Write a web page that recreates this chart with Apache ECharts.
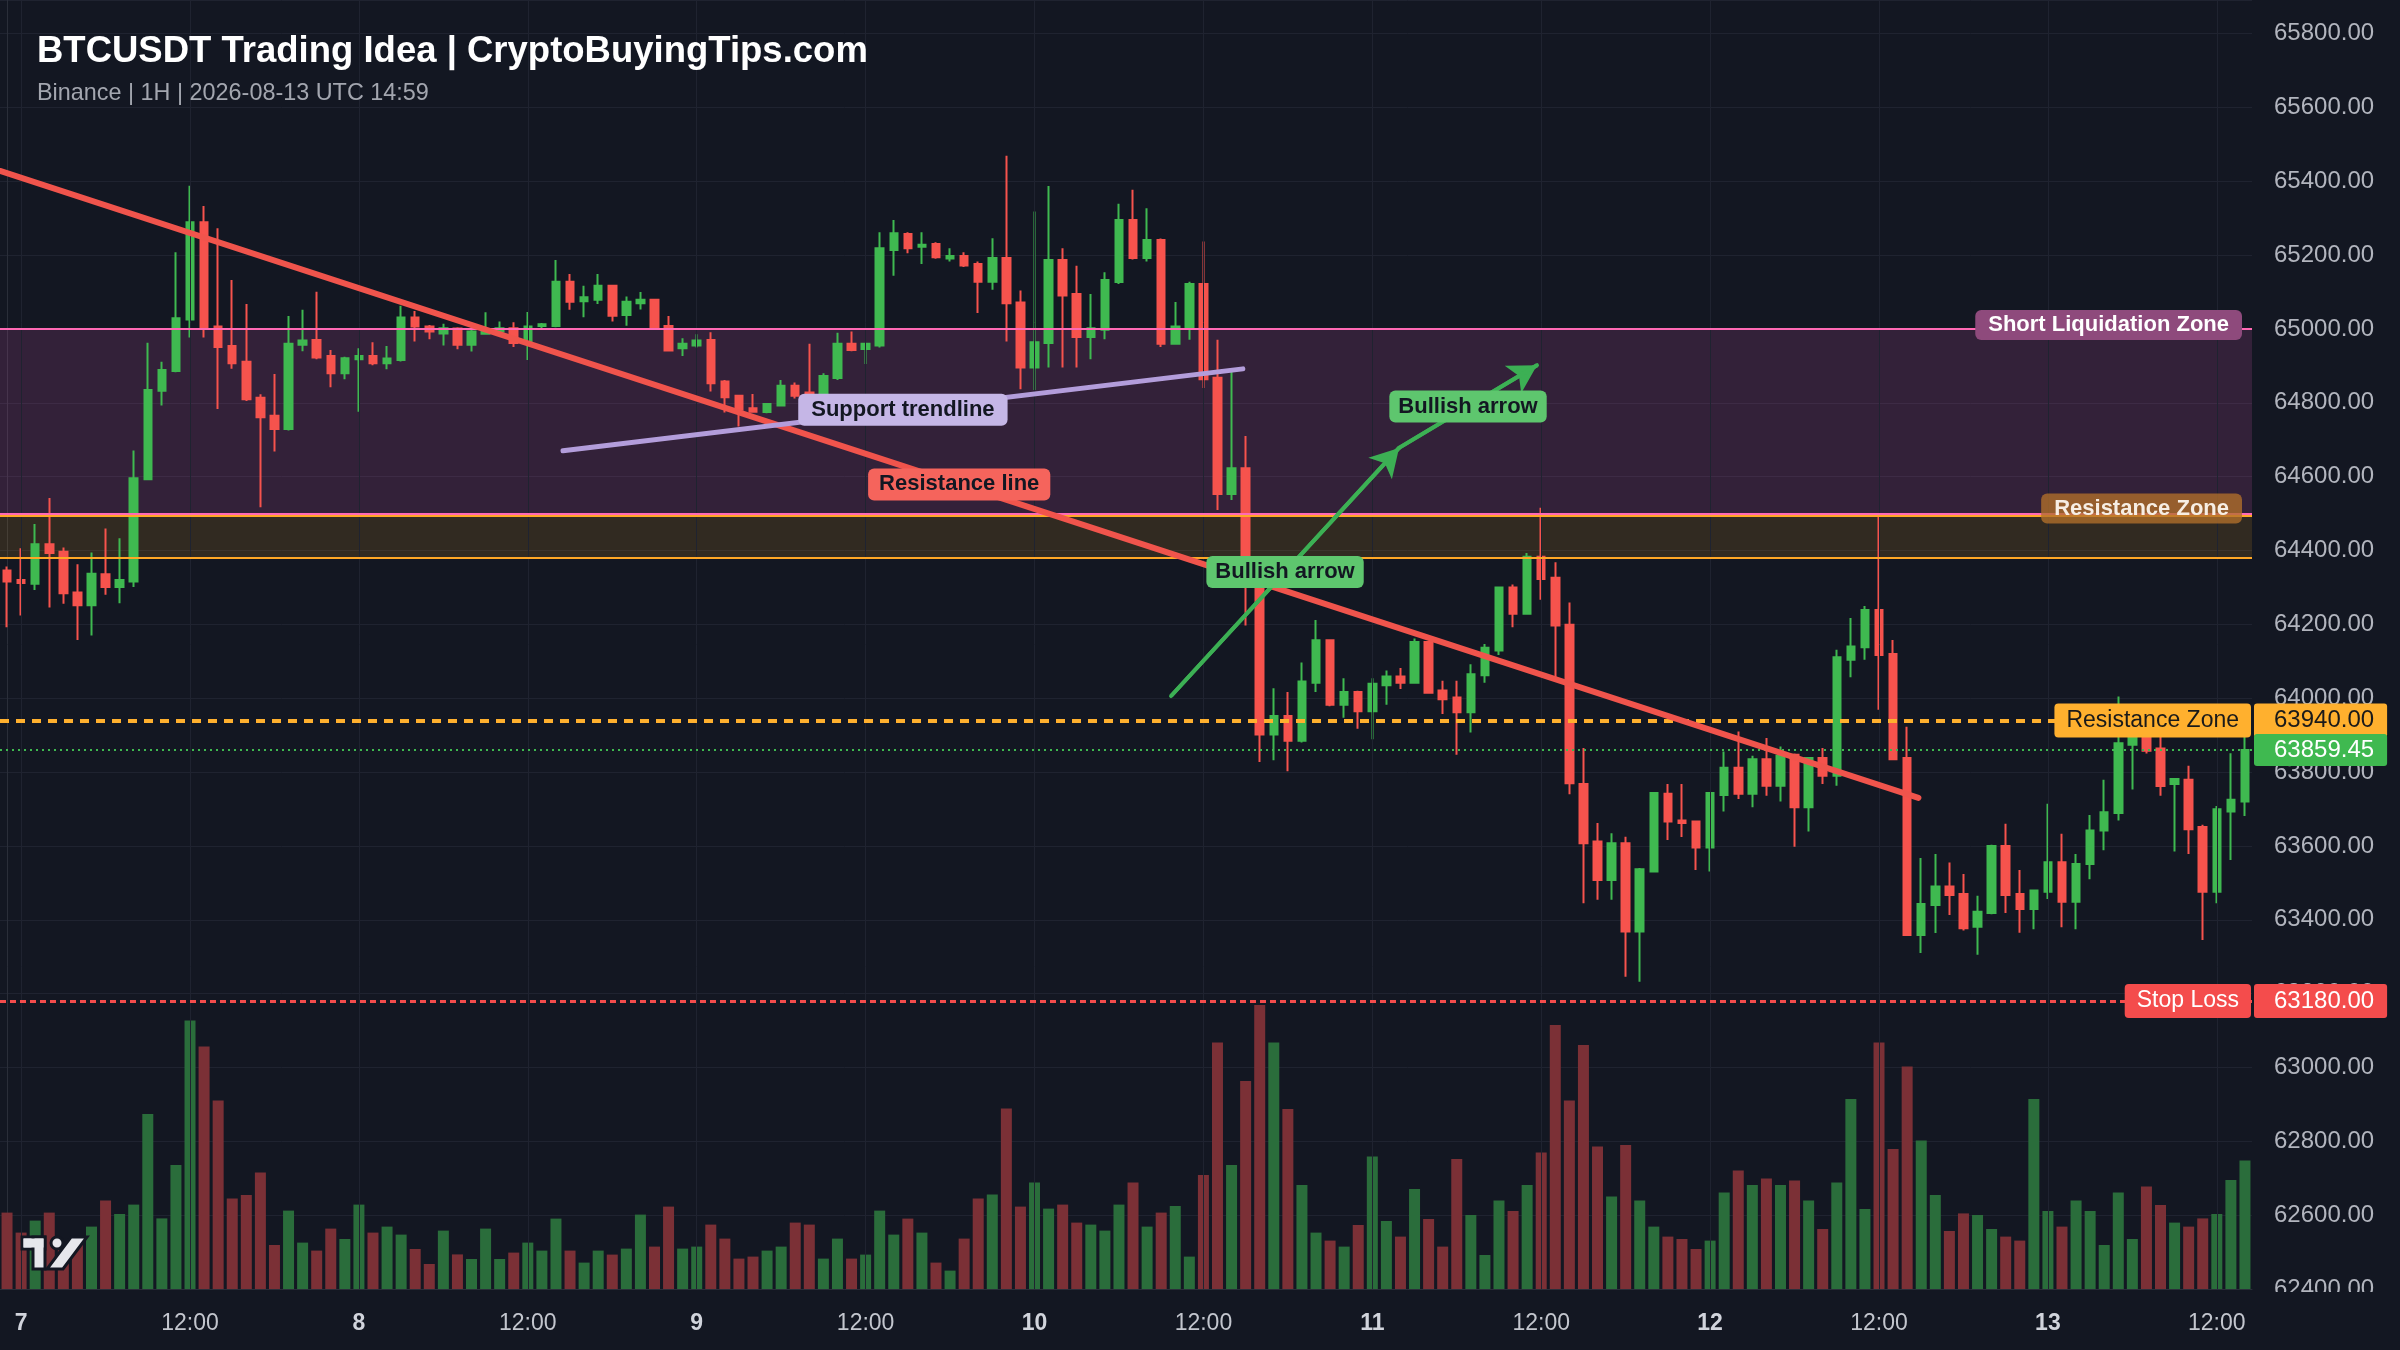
<!DOCTYPE html>
<html><head><meta charset="utf-8">
<script src="https://cdn.jsdelivr.net/npm/echarts@6.0.0/dist/echarts.min.js"></script>
<style>html,body{margin:0;padding:0;background:#131722;}#c{width:2400px;height:1350px;}</style>
</head><body><div id="c"></div>
<script>
// ---------- DATA ----------
const firstCandleUTC = Date.UTC(2026, 7, 6, 23, 0); // 1H candles
const opens = [64346,64320,64310,64417,64397,64286,64252,64336,64301,64316,
 64593,64833,64886,65026,65289,65007,64954,64911,64814,64765,
 64729,64957,64970,64927,64880,64918,64927,64907,64916,65031,
 65007,64988,65001,64957,64987,64993,65002,64966,65008,65008,
 65128,65075,65079,65117,65038,65070,65079,65008,64948,64955,
 64970,64858,64819,64785,64775,64793,64846,64828,64822,64867,
 64960,64946,64955,65214,65257,65223,65230,65191,65198,65176,
 65128,65192,65072,64896,64962,65187,65095,64978,64998,65127,
 65295,65192,65241,64960,65002,65122,64868,64553,64623,64310,
 63902,63952,63885,64042,64157,63982,64017,63965,64035,64059,
 64042,64152,64021,64002,63962,64062,64129,64300,64229,64383,
 64326,64199,63768,63612,63508,63607,63368,63531,63741,63669,
 63666,63596,63738,63812,63741,63835,63763,63847,63705,63838,
 63790,64104,64138,64239,64120,63838,63359,63440,63490,63470,
 63381,63418,63600,63470,63429,63476,63556,63449,63551,63642,
 63689,63874,63905,63864,63768,63779,63651,63476,63693,63720];
const highs = [64357,64406,64472,64542,64408,64363,64395,64460,64433,64671,
 64963,64911,65208,65388,65333,65273,65133,65068,64823,64878,
 65035,65052,65101,64943,64925,64948,64964,64954,65063,65049,
 65011,65014,65005,65016,65045,65020,65018,65046,65016,65187,
 65149,65117,65149,65120,65088,65100,65082,65035,64975,64986,
 64991,64862,64822,64824,64799,64862,64855,64960,64880,64990,
 64993,64963,65262,65295,65262,65262,65235,65219,65208,65183,
 65246,65469,65104,65318,65387,65219,65171,65095,65154,65339,
 65377,65327,65245,65073,65128,65237,64971,64885,64710,64330,
 64027,64017,64097,64212,64160,64054,64020,64054,64075,64082,
 64162,64155,64047,64047,64092,64147,64302,64308,64393,64516,
 64368,64259,63865,63662,63634,63625,63540,63745,63768,63768,
 63668,63745,63856,63910,63844,63892,63869,63850,63840,63865,
 64131,64217,64250,64497,64158,63923,63567,63578,63555,63524,
 63465,63603,63660,63535,63482,63714,63633,63578,63684,63779,
 64005,63950,63935,63940,63784,63817,63657,63708,63851,63901];
const lows = [64192,64224,64293,64246,64256,64158,64170,64280,64257,64301,
 64590,64793,64883,64977,64977,64783,64892,64805,64517,64668,
 64725,64940,64918,64842,64864,64776,64902,64891,64912,64966,
 64972,64955,64945,64939,64985,64990,64951,64916,64998,65005,
 65052,65032,65068,65020,65009,65053,64998,64939,64927,64950,
 64831,64774,64736,64775,64772,64790,64812,64795,64810,64862,
 64940,64905,64950,65144,65205,65176,65190,65183,65168,65043,
 65106,64966,64837,64835,64896,64896,64896,64918,64972,65122,
 65188,65183,64951,64958,64971,64840,64510,64537,64197,63827,
 63832,63802,63880,64017,63978,63947,63917,63889,63982,64025,
 64040,64012,63957,63847,63907,64042,64117,64192,64226,64267,
 64057,63740,63445,63454,63454,63246,63232,63528,63616,63624,
 63535,63531,63693,63727,63705,63736,63720,63598,63639,63768,
 63763,64057,64104,63969,63832,63356,63310,63364,63413,63371,
 63305,63415,63418,63365,63374,63456,63380,63374,63510,63588,
 63669,63753,63850,63736,63585,63578,63345,63445,63562,63681];
const closes = [64316,64312,64417,64393,64284,64252,64337,64301,64320,64596,
 64835,64889,65029,65289,65005,64951,64907,64810,64761,64729,
 64960,64969,64923,64880,64921,64927,64907,64920,65031,65007,
 64993,65002,64957,64993,64997,65002,64962,65007,65013,65128,
 65074,65086,65117,65036,65074,65079,65002,64942,64960,64969,
 64853,64815,64781,64776,64797,64846,64819,64822,64873,64960,
 64943,64960,65219,65259,65219,65228,65194,65198,65172,65128,
 65192,65070,64896,64964,65187,65091,64978,65002,65133,65295,
 65192,65241,64960,65007,65122,64864,64553,64623,64310,63902,
 63952,63885,64045,64157,63982,64017,63965,64039,64059,64042,
 64152,64015,63997,63962,64065,64137,64300,64229,64383,64323,
 64197,63770,63607,63508,63607,63368,63537,63743,63666,63662,
 63596,63743,63812,63741,63835,63763,63844,63705,63838,63790,
 64111,64140,64239,64117,63835,63359,63443,63490,63467,63377,
 63422,63600,63467,63429,63479,63556,63449,63551,63642,63691,
 63878,63905,63858,63762,63781,63645,63476,63699,63725,63859.45];
const volumes = [382,282,342,382,195,228,312,442,375,422,
 875,353,620,1342,1212,942,453,470,582,220,
 392,232,192,302,250,422,282,312,272,200,
 125,292,173,150,302,150,182,232,192,352,
 192,132,192,172,202,372,212,412,202,212,
 322,252,152,162,192,212,332,322,152,252,
 152,172,392,272,352,282,132,92,252,452,
 472,902,412,532,402,422,332,322,292,422,
 532,312,382,415,162,570,1232,620,1040,1420,
 1232,900,520,282,242,212,320,662,340,262,
 500,350,212,650,370,170,442,390,520,682,
 1320,942,1220,712,462,720,442,312,262,250,
 200,242,482,592,520,553,520,542,442,300,
 532,950,400,1232,700,1112,742,470,290,378,
 370,300,262,242,950,390,312,442,390,220,
 482,250,512,420,332,312,353,375,545,642];

// price axis
const priceMin = 62400, priceMax = 65891, priceStep = 200;
const volumeAxisMax = 6445;

// levels / zones
const shortLiqZone = [64500, 65000];
const upperResistanceZone = [64380, 64495];
const resistanceLevel = 63940;
const lastPrice = 63859.45;
const stopLoss = 63180;

// drawings: [candle index, price]
const resistanceLine = [[-0.5, 65428], [135.8, 63730]];
const supportTrendline = [[39.5, 64670], [87.8, 64892]];
const bullishArrow1 = [[82.7, 64006], [98.9, 64678]];
const bullishArrow2 = [[98.9, 64678], [108.7, 64902]];

// ---------- BUILD ----------
const pad = n => String(n).padStart(2, '0');
const categories = opens.map((_, i) => {
  const d = new Date(firstCandleUTC + i * 3600e3);
  return d.getUTCFullYear() + '-' + pad(d.getUTCMonth() + 1) + '-' + pad(d.getUTCDate()) + ' ' + pad(d.getUTCHours()) + ':00';
});
const hourOf = c => +c.slice(11, 13);
const dayOf = c => +c.slice(8, 10);
const xMax = categories.length - 0.5;
const gridIdx = categories.map((c, i) => (hourOf(c) % 12 === 0 ? i : -1)).filter(i => i >= 0);

const FONT = '"Liberation Sans", Arial, Helvetica, sans-serif';
const UP = '#3fb950', DOWN = '#f6534d';
const VOL_UP = '#2a6d3b', VOL_DOWN = '#7b3036';
const mid = l => [(l[0][0] + l[1][0]) / 2, (l[0][1] + l[1][1]) / 2];

const candleData = opens.map((o, i) => [o, closes[i], lows[i], highs[i]]);
const volData = volumes.map((v, i) => ({ value: v, itemStyle: { color: closes[i] >= opens[i] ? VOL_UP : VOL_DOWN } }));

const boxLabel = (pos, text, o) => ({
  value: pos,
  label: Object.assign({ show: true, formatter: text, fontFamily: FONT, lineHeight: 22, fontSize: 22,
    fontWeight: 'bold', color: '#131722', padding: [5, 11], borderRadius: 6, position: 'inside', opacity: 1 }, o)
});

const labelItems = [
  boxLabel([xMax, shortLiqZone[1]], 'Short Liquidation Zone', { position: 'left', distance: 10, offset: [0, -4], color: '#ffffff', backgroundColor: '#8e4a7c', padding: [4, 13] }),
  boxLabel([xMax, shortLiqZone[0]], 'Resistance Zone', { position: 'left', distance: 10, offset: [0, -5], color: '#f7eee4', backgroundColor: 'rgba(178,112,42,0.78)', padding: [4, 13] }),
  boxLabel([xMax, resistanceLevel], 'Resistance Zone', { position: 'left', distance: 1, fontWeight: 'normal', fontSize: 23, lineHeight: 24, color: '#1a1a1a', backgroundColor: '#ffb02e', padding: [5, 12], borderRadius: 4 }),
  boxLabel([xMax, stopLoss], 'Stop Loss', { position: 'left', distance: 1, fontWeight: 'normal', fontSize: 23, lineHeight: 24, color: '#ffffff', backgroundColor: '#f44c4c', padding: [5, 12], borderRadius: 4 }),
  boxLabel([xMax, resistanceLevel], resistanceLevel.toFixed(2), { position: 'right', distance: 2, fontWeight: 'normal', fontSize: 24, lineHeight: 24, color: '#1a1a1a', backgroundColor: '#ffb02e', padding: [5, 13, 5, 20], borderRadius: 3 }),
  boxLabel([xMax, lastPrice], lastPrice.toFixed(2), { position: 'right', distance: 2, fontWeight: 'normal', fontSize: 24, lineHeight: 24, color: '#ffffff', backgroundColor: '#3fb950', padding: [4, 13, 4, 20], borderRadius: 3 }),
  boxLabel([xMax, stopLoss], stopLoss.toFixed(2), { position: 'right', distance: 2, fontWeight: 'normal', fontSize: 24, lineHeight: 24, color: '#ffffff', backgroundColor: '#f44c4c', padding: [5, 13, 5, 20], borderRadius: 3 }),
  boxLabel(mid(resistanceLine), 'Resistance line', { backgroundColor: '#f5645c' }),
  boxLabel(mid(supportTrendline), 'Support trendline', { backgroundColor: '#c5b6e6', padding: [5, 13] }),
  boxLabel(mid(bullishArrow1), 'Bullish arrow', { backgroundColor: '#5ec66e', padding: [5, 9] }),
  boxLabel(mid(bullishArrow2), 'Bullish arrow', { backgroundColor: '#5ec66e', padding: [5, 9] })
];

const arrowSeries = (name, pts) => ({
  name, type: 'line', xAxisIndex: 1, yAxisIndex: 0, data: pts, z: 6, silent: true,
  symbol: 'none', lineStyle: { color: '#3cb054', width: 4, cap: 'round' },
  markLine: {
    silent: true, animation: false, symbol: ['none', 'arrow'], symbolSize: [24, 28],
    label: { show: false }, lineStyle: { color: '#3cb054', width: 4, type: 'solid' },
    data: [[{ coord: pts[0] }, { coord: pts[1] }]]
  }
});

const option = {
  backgroundColor: '#131722',
  animation: false,
  textStyle: { fontFamily: FONT },
  grid: { left: 0, top: 0, width: 2252, height: 1289, containLabel: false, outerBoundsMode: 'none' },
  xAxis: [
    {
      type: 'category', data: categories, boundaryGap: true,
      axisLine: { show: true, lineStyle: { color: '#2a2e39', width: 1 } },
      axisTick: { show: false }, splitLine: { show: false },
      axisLabel: {
        interval: (idx, val) => hourOf(val) % 12 === 0,
        formatter: val => hourOf(val) === 0 ? '{d|' + dayOf(val) + '}' : '12:00',
        color: '#c3c6ce', fontSize: 23, margin: 23, fontFamily: FONT,
        rich: { d: { fontWeight: 'bold', fontSize: 23, color: '#d1d4dc', fontFamily: FONT } }
      }
    },
    { type: 'value', min: -0.5, max: xMax, show: false }
  ],
  yAxis: [
    {
      type: 'value', position: 'right', min: priceMin, max: priceMax, interval: priceStep, scale: true,
      axisLine: { show: true, lineStyle: { color: '#2a2e39', width: 1 } },
      axisTick: { show: false },
      splitLine: { show: true, lineStyle: { color: '#1f2330', width: 1 } },
      axisLabel: { formatter: v => v.toFixed(2), color: '#b2b5be', fontSize: 24, margin: 22, showMaxLabel: false, fontFamily: FONT }
    },
    { type: 'value', min: 0, max: volumeAxisMax, show: false, splitLine: { show: false } }
  ],
  graphic: [
    { type: 'text', x: 37, y: 52, z: 100, style: { text: 'BTCUSDT Trading Idea | CryptoBuyingTips.com', fill: '#ffffff', fontSize: 36.5, fontWeight: 'bold', fontFamily: FONT, verticalAlign: 'middle' } },
    { type: 'text', x: 37, y: 94, z: 100, style: { text: 'Binance | 1H | 2026-08-13 UTC 14:59', fill: '#a3a6af', fontSize: 23.4, fontFamily: FONT, verticalAlign: 'middle' } },
    { type: 'rect', z: 100, shape: { x: 2253, y: 1292, width: 147, height: 58 }, style: { fill: '#131722' } },
    { type: 'group', z: 100, children: [
      { type: 'rect', z: 100, shape: { x: 22, y: 1237, width: 23, height: 12 }, style: { fill: '#e6e7ec', stroke: '#131722', lineWidth: 3 } },
      { type: 'rect', z: 100, shape: { x: 33, y: 1237, width: 12, height: 32 }, style: { fill: '#e6e7ec', stroke: '#131722', lineWidth: 3 } },
      { type: 'rect', z: 101, shape: { x: 23.5, y: 1238.5, width: 20, height: 9 }, style: { fill: '#e6e7ec' } },
      { type: 'circle', z: 100, shape: { cx: 57, cy: 1243, r: 6 }, style: { fill: '#e6e7ec', stroke: '#131722', lineWidth: 3 } },
      { type: 'polygon', z: 100, shape: { points: [[71, 1237], [87, 1237], [63, 1269], [47, 1269]] }, style: { fill: '#e6e7ec', stroke: '#131722', lineWidth: 3 } }
    ] }
  ],
  series: [
    {
      name: 'vgrid', type: 'line', xAxisIndex: 1, yAxisIndex: 0, data: [], z: 0, silent: true,
      markLine: { silent: true, animation: false, symbol: 'none', label: { show: false },
        lineStyle: { color: '#1f2330', width: 1, type: 'solid' }, data: gridIdx.map(i => ({ xAxis: i })) }
    },
    { name: 'Volume', type: 'bar', xAxisIndex: 0, yAxisIndex: 1, data: volData, barWidth: 11, z: 1, silent: true },
    {
      name: 'BTCUSDT', type: 'candlestick', xAxisIndex: 0, yAxisIndex: 0, data: candleData, barWidth: 8, z: 2, silent: true,
      itemStyle: { color: UP, color0: DOWN, borderColor: UP, borderColor0: DOWN, borderWidth: 2 }
    },
    {
      name: 'zones', type: 'line', xAxisIndex: 1, yAxisIndex: 0, data: [], z: 3, silent: true,
      markArea: { silent: true, animation: false, data: [
        [{ yAxis: shortLiqZone[0], itemStyle: { color: 'rgba(197,84,167,0.18)' } }, { yAxis: shortLiqZone[1] }],
        [{ yAxis: upperResistanceZone[0], itemStyle: { color: 'rgba(255,170,30,0.13)' } }, { yAxis: upperResistanceZone[1] }]
      ] }
    },
    {
      name: 'levels', type: 'line', xAxisIndex: 1, yAxisIndex: 0, data: [], z: 4, silent: true,
      markLine: { silent: true, animation: false, symbol: 'none', label: { show: false }, data: [
        { yAxis: upperResistanceZone[0], lineStyle: { color: '#ffa726', width: 2, type: 'solid' } },
        { yAxis: upperResistanceZone[1], lineStyle: { color: '#ffa726', width: 2, type: 'solid' } },
        { yAxis: shortLiqZone[0], lineStyle: { color: '#ff69b4', width: 2, type: 'solid' } },
        { yAxis: shortLiqZone[1], lineStyle: { color: '#ff69b4', width: 2, type: 'solid' } },
        { yAxis: resistanceLevel, lineStyle: { color: '#ffb02e', width: 4, type: [9, 7] } },
        { yAxis: lastPrice, lineStyle: { color: '#3fb950', width: 2, type: [2, 4] } },
        { yAxis: stopLoss, lineStyle: { color: '#f44c4c', width: 3, type: [6, 4] } }
      ] }
    },
    { name: 'Resistance line', type: 'line', xAxisIndex: 1, yAxisIndex: 0, data: resistanceLine, z: 5, silent: true, symbol: 'none', lineStyle: { color: '#f0544c', width: 6, cap: 'round' } },
    { name: 'Support trendline', type: 'line', xAxisIndex: 1, yAxisIndex: 0, data: supportTrendline, z: 5, silent: true, symbol: 'none', lineStyle: { color: '#b39ddb', width: 5, cap: 'round' } },
    arrowSeries('Bullish arrow 1', bullishArrow1),
    arrowSeries('Bullish arrow 2', bullishArrow2),
    { name: 'labels', type: 'scatter', xAxisIndex: 1, yAxisIndex: 0, symbolSize: 0, z: 10, silent: true,
      itemStyle: { opacity: 1 }, data: labelItems }
  ]
};
const chart = echarts.init(document.getElementById('c'), null, { renderer: 'canvas', width: 2400, height: 1350 });
chart.setOption(option);
</script>
</body></html>
